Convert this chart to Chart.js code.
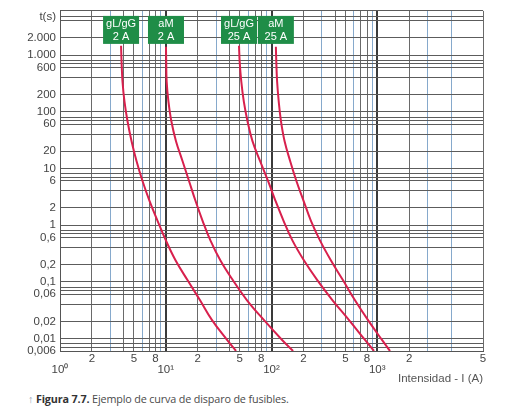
<!DOCTYPE html>
<html>
<head>
<meta charset="utf-8">
<script src="https://cdn.jsdelivr.net/npm/chart.js@4.4.0/dist/chart.umd.min.js"></script>
<style>
html,body{margin:0;padding:0;background:#fff;}
#wrap{position:relative;width:513px;height:418px;background:#fff;}
#c{position:absolute;left:0;top:0;}
#cap{position:absolute;left:28px;top:391px;font-family:"Open Sans","Noto Sans",sans-serif;font-size:10.8px;color:#4a4a4a;white-space:nowrap;letter-spacing:-0.15px;}
#cap .arr{color:#8a9bb0;}
#cap b{color:#333;font-weight:700;}
</style>
</head>
<body>
<div id="wrap">
<canvas id="c" width="513" height="390"></canvas>
<div id="cap"><span class="arr">↑</span> <b>Figura 7.7.</b> Ejemplo de curva de disparo de fusibles.</div>
</div>
<script>
// ---- data (current I in A, time t in s) ----
const fuseTypes = ['gL/gG', 'aM', 'gL/gG', 'aM'];
const fuseRatings = ['2 A', '2 A', '25 A', '25 A'];

const gG2_I  = [3.78, 3.82, 3.90, 4.07, 4.35, 4.75, 5.29, 6.03, 7.02, 8.36, 10.05, 12.4, 16.1, 21.1, 27.4, 38.0, 46.2];
const gG2_t  = [1460, 765, 341, 152, 67.7, 30.2, 13.5, 6.0, 2.68, 1.19, 0.531, 0.237, 0.106, 0.0471, 0.021, 0.0094, 0.006];

const aM2_I  = [10.05, 10.1, 10.2, 10.6, 11.3, 12.5, 14.4, 16.6, 19.1, 22.3, 26.5, 32.9, 43.2, 58.7, 85.0, 126, 160];
const aM2_t  = [1400, 765, 341, 152, 67.7, 30.2, 13.5, 6.0, 2.68, 1.19, 0.531, 0.237, 0.106, 0.0471, 0.021, 0.0094, 0.006];

const gG25_I = [49.3, 50.0, 51.8, 54.7, 59.3, 66.1, 77.9, 92.7, 109, 130, 158, 203, 272, 378, 541, 766, 932];
const gG25_t = [1460, 765, 341, 152, 67.7, 30.2, 13.5, 6.0, 2.68, 1.19, 0.531, 0.237, 0.106, 0.0471, 0.021, 0.0094, 0.006];

const aM25_I = [110, 111, 113, 117, 123, 133, 150, 172, 201, 236, 288, 365, 475, 616, 818, 1109, 1320];
const aM25_t = [1400, 765, 341, 152, 67.7, 30.2, 13.5, 6.0, 2.68, 1.19, 0.531, 0.237, 0.106, 0.0471, 0.021, 0.0094, 0.006];

// ---- axis tick labels ----
const yLabelValues = [0.006, 0.01, 0.02, 0.06, 0.1, 0.2, 0.6, 1, 2, 6, 10, 20, 60, 100, 200, 600, 1000, 2000];
const yLabelTexts  = ['0,006', '0,01', '0,02', '0,06', '0,1', '0,2', '0,6', '1', '2', '6', '10', '20', '60', '100', '200', '600', '1.000', '2.000'];
const yTitleValue = 4700;
const yTitleText = 't(s)';
const yGridMantissas = [1, 2, 4, 6, 7, 8];

const xLabelValues = [1, 2, 5, 8, 10, 20, 50, 80, 100, 200, 500, 800, 1000, 2000, 10000];
const xLabelTexts  = [['', '10⁰'], '2', '5', '8', ['', '10¹'], '2', '5', '8', ['', '10²'], '2', '5', '8', ['', '10³'], '2', '5'];
const xExtraGrid = [2000, 3000, 5000, 10000];
const xTitle = 'Intensidad - I (A)';

const Y_MIN = 0.006, Y_MAX = 6000, X_MIN = 1, X_MAX = 10000;

// ---- build helpers ----
const near = (a, b) => Math.abs(a - b) / b < 1e-6;
const pts = (xs, ys) => xs.map((v, i) => ({ x: v, y: ys[i] }));

const yTicks = [];
for (let n = -3; n <= 3; n++) {
  yGridMantissas.forEach(m => {
    const v = Number((m * Math.pow(10, n)).toPrecision(6));
    if (v >= Y_MIN - 1e-12 && v <= Y_MAX + 1e-9) yTicks.push(v);
  });
}
yTicks.push(yTitleValue);
yTicks.sort((a, b) => a - b);

const xTicks = [];
for (let n = 0; n <= 2; n++) {
  for (let m = 1; m <= 9; m++) xTicks.push(Number((m * Math.pow(10, n)).toPrecision(6)));
}
xTicks.push(1000, ...xExtraGrid);
const xTicksU = [...new Set(xTicks)].sort((a, b) => a - b);

const curveColor = '#d8204d';
const series = [pts(gG2_I, gG2_t), pts(aM2_I, aM2_t), pts(gG25_I, gG25_t), pts(aM25_I, aM25_t)];

const fuseLabelPlugin = {
  id: 'fuseLabels',
  afterDatasetsDraw(chart) {
    const { ctx, chartArea, scales } = chart;
    const xs = scales.x;
    ctx.save();
    chart.data.datasets.forEach((ds, i) => {
      const px = xs.getPixelForValue(ds.data[0].x);
      const w = 36, h = 28, top = chartArea.top + 5;
      ctx.fillStyle = '#1f8d47';
      ctx.fillRect(px - w / 2, top, w, h);
      ctx.fillStyle = '#ffffff';
      ctx.font = '11px "Liberation Sans", Arial, sans-serif';
      ctx.textAlign = 'center';
      ctx.textBaseline = 'middle';
      ctx.fillText(fuseTypes[i], px, top + 8);
      ctx.fillText(fuseRatings[i], px, top + 21);
    });
    ctx.restore();
  }
};

new Chart(document.getElementById('c'), {
  type: 'scatter',
  data: {
    datasets: series.map((d, i) => ({
      label: fuseTypes[i] + ' ' + fuseRatings[i],
      data: d,
      showLine: true,
      borderColor: curveColor,
      backgroundColor: curveColor,
      borderWidth: 2,
      pointRadius: 0,
      tension: 0.4,
      fill: false
    }))
  },
  options: {
    responsive: false,
    animation: false,
    devicePixelRatio: 1,
    layout: { padding: { top: 9, right: 30, left: 0, bottom: 0 } },
    plugins: { legend: { display: false }, tooltip: { enabled: false }, title: { display: false } },
    scales: {
      x: {
        type: 'logarithmic',
        position: 'bottom',
        min: X_MIN,
        max: X_MAX,
        afterBuildTicks: (s) => { s.ticks = xTicksU.map(v => ({ value: v })); },
        afterFit: (s) => { s.height = 39; },
        ticks: {
          autoSkip: false,
          maxRotation: 0,
          minRotation: 0,
          padding: 2,
          color: '#444',
          font: { family: '"Liberation Sans", Arial, sans-serif', size: 11.5, lineHeight: 0.95 },
          callback: (v) => {
            const k = xLabelValues.findIndex(l => near(v, l));
            return k >= 0 ? xLabelTexts[k] : '';
          }
        },
        grid: {
          drawTicks: false,
          color: (c) => {
            const v = c.tick ? c.tick.value : 0;
            if (near(v, 10) || near(v, 100) || near(v, 1000)) return '#3a3a3a';
            const m = Math.round(v / Math.pow(10, Math.floor(Math.log10(v) + 1e-9)));
            if (m === 3 || m === 6 || m === 9 || near(v, 5000)) return '#86a9cc';
            return '#6a6a6a';
          },
          lineWidth: (c) => {
            const v = c.tick ? c.tick.value : 0;
            return (near(v, 10) || near(v, 100) || near(v, 1000)) ? 2 : 1;
          }
        },
        border: { display: true, color: '#555', width: 1 },
        title: {
          display: true,
          text: xTitle,
          align: 'end',
          color: '#555',
          font: { family: '"Liberation Sans", Arial, sans-serif', size: 11.5 },
          padding: { top: 0, bottom: 4 }
        }
      },
      y: {
        type: 'logarithmic',
        min: Y_MIN,
        max: Y_MAX,
        afterBuildTicks: (s) => { s.ticks = yTicks.map(v => ({ value: v })); },
        afterFit: (s) => { s.width = 60; },
        ticks: {
          autoSkip: false,
          padding: 4,
          color: '#444',
          font: { family: '"Liberation Sans", Arial, sans-serif', size: 11.5 },
          callback: (v) => {
            if (near(v, yTitleValue)) return yTitleText;
            const k = yLabelValues.findIndex(l => near(v, l));
            return k >= 0 ? yLabelTexts[k] : '';
          }
        },
        grid: {
          drawTicks: false,
          color: '#5c5c5c',
          lineWidth: 1
        },
        border: { display: true, color: '#555', width: 1 }
      }
    }
  },
  plugins: [fuseLabelPlugin]
});
</script>
</body>
</html>
